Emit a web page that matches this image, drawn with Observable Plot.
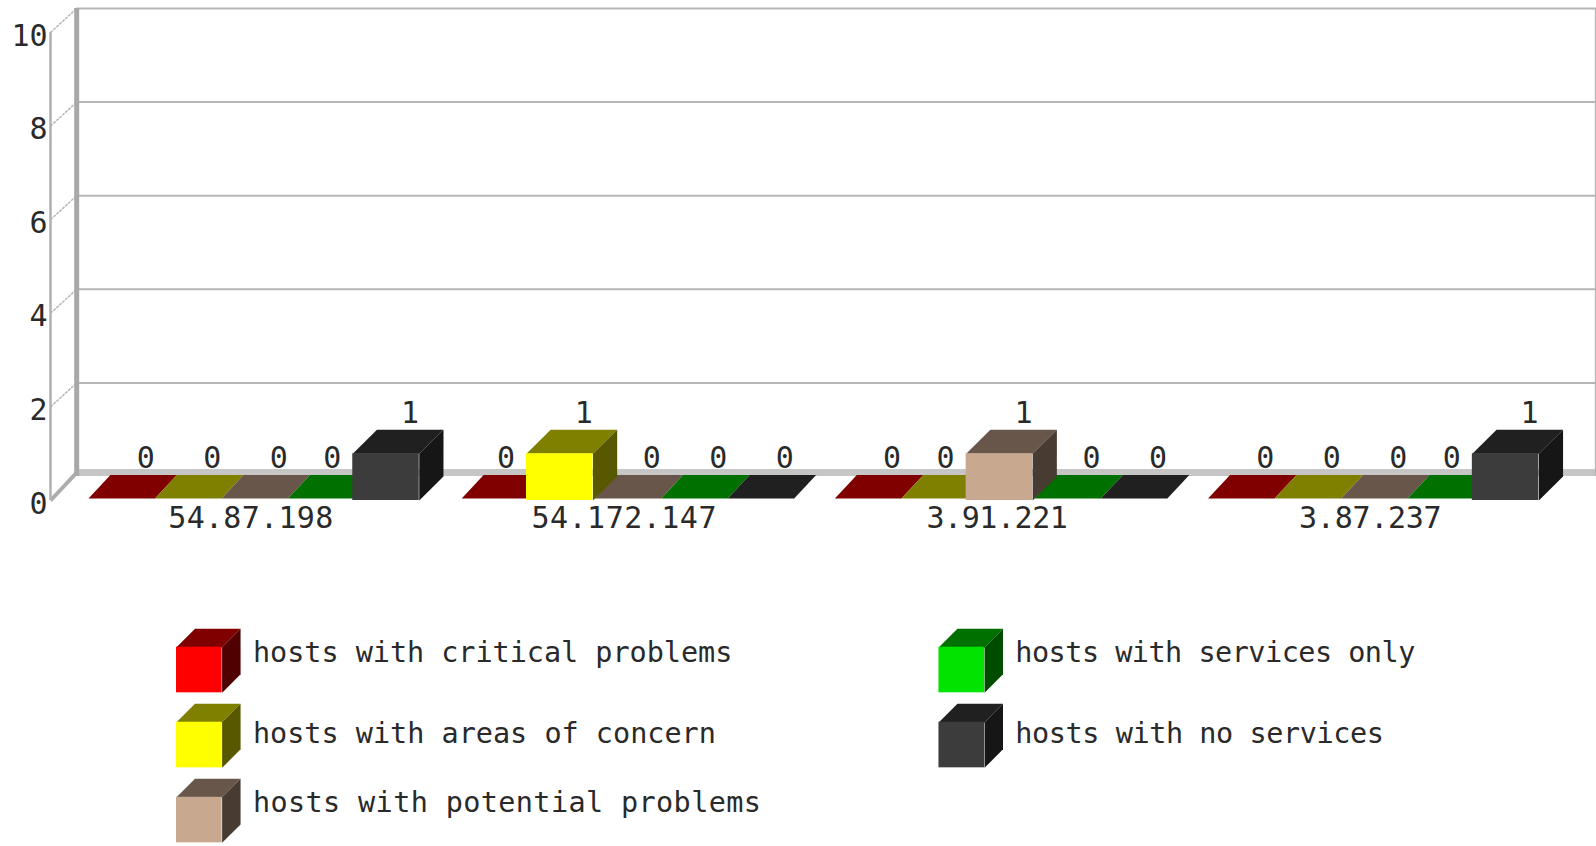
<!DOCTYPE html>
<html>
<head>
<meta charset="utf-8">
<script src="https://cdn.jsdelivr.net/npm/d3@7"></script>
<script src="https://cdn.jsdelivr.net/npm/@observablehq/plot@0.6"></script>
<style>
html,body{margin:0;padding:0;background:#fff;overflow:hidden}
svg{display:block;max-width:none}
</style>
</head>
<body>
<div id="chart"></div>
<script>
const hosts = ["54.87.198", "54.172.147", "3.91.221", "3.87.237"];
const seriesNames = ["hosts with critical problems", "hosts with areas of concern", "hosts with potential problems", "hosts with services only", "hosts with no services"];
const critical = [0, 0, 0, 0];
const concern = [0, 1, 0, 0];
const potential = [0, 0, 1, 0];
const servicesOnly = [0, 0, 0, 0];
const noServices = [1, 0, 0, 1];
const yTicks = [0, 2, 4, 6, 8, 10];
const frontColors = ["#ff0000", "#ffff00", "#c8a88e", "#00e400", "#3c3c3c"];
const topColors = ["#800000", "#808000", "#68564a", "#007000", "#202020"];
const sideColors = ["#500000", "#585800", "#483c32", "#004d00", "#161616"];
const hostTextWidths = [165, 185, 141.5, 142.5];
const legendTextWidths = [479.5, 463, 508, 400, 368.5];

const seriesValues = [critical, concern, potential, servicesOnly, noServices];
const FONT = "'DejaVu Sans Mono', monospace";
const INK = "#2a2a2a";
const GRID = "#b6b6b6";

// Chart units: one x unit = one bar slot, one y unit = one host.
const groupStep = 5.612, depthX = 0.364, depthY = 0.513;
const flatX = 0.026, flatY = 0.043, flatDepthX = 0.33, flatDepthY = 0.5;
const slotsLeft = -0.5714, slotsRight = 22.677;
const wallX = slotsLeft + depthX + 0.03;

const cells = hosts.flatMap((host, g) => seriesValues.map((vals, s) => ({
  host, s, value: vals[g], next: s < 4 ? seriesValues[s + 1][g] : 0, pos: g * groupStep + s
})));

const poly = (id, fill, pts) => pts.map(([x, y]) => ({id, fill, x, y}));
const floors = cells.filter(d => d.value === 0).flatMap((d, i) => poly("f" + i, topColors[d.s], [
  [d.pos, flatY], [d.pos + 1, flatY], [d.pos + 1 + flatDepthX, flatY + flatDepthY], [d.pos + flatDepthX, flatY + flatDepthY]
]));
const raised = cells.filter(d => d.value > 0).map(d => ({...d, x0: d.pos - flatX, x1: d.pos - flatX + 1}));
const faces = raised.flatMap((d, i) => [
  ...poly("t" + i, topColors[d.s], [[d.x0, d.value], [d.x1, d.value], [d.x1 + depthX, d.value + depthY], [d.x0 + depthX, d.value + depthY]]),
  ...poly("s" + i, sideColors[d.s], [[d.x1, 0], [d.x1 + depthX, depthY], [d.x1 + depthX, d.value + depthY], [d.x1, d.value]])
]);
const labelled = cells.map(d => ({
  ...d,
  lx: d.pos + 0.86 - (d.value === 0 && d.next > 0 ? 0.195 : 0) - (d.value > 0 ? 0.025 : 0),
  ly: d.value + 0.855 + (d.value === 0 ? flatY : 0)
}));
const polyMark = rows => Plot.line(rows, {x: "x", y: "y", z: "id", fill: "fill", stroke: "none", curve: "linear-closed"});

const chart = Plot.plot({
  width: 1596, height: 540,
  marginLeft: 50, marginRight: 0, marginTop: 32, marginBottom: 40,
  x: {domain: [slotsLeft, slotsRight], axis: null},
  y: {domain: [0, 10], axis: null},
  color: {type: "identity"},
  style: {background: "#fff", fontFamily: FONT},
  marks: [
    Plot.ruleY(yTicks.filter(t => t > 0), {y: t => t + depthY, x1: wallX, x2: slotsRight, stroke: GRID, strokeWidth: 2}),
    Plot.ruleY([depthY + 0.085], {x1: wallX, x2: slotsRight, stroke: "#c6c6c6", strokeWidth: 7}),
    Plot.ruleX([slotsRight - 0.01], {y1: depthY, y2: 10 + depthY, stroke: GRID, strokeWidth: 2}),
    Plot.link(yTicks.filter(t => t > 0), {x1: slotsLeft, y1: t => t, x2: wallX, y2: t => t + depthY, stroke: GRID, strokeWidth: 1.5, strokeDasharray: "3,1"}),
    Plot.link([0], {x1: slotsLeft, y1: 0, x2: wallX, y2: depthY + 0.085, stroke: "#adadad", strokeWidth: 4}),
    Plot.ruleX([slotsLeft], {y1: 0, y2: 10, stroke: "#b0b0b0", strokeWidth: 2.5}),
    Plot.ruleX([wallX], {y1: depthY, y2: 10 + depthY, stroke: "#a8a8a8", strokeWidth: 5}),
    polyMark(floors),
    polyMark(faces),
    Plot.rect(raised, {x1: "x0", x2: "x1", y1: 0, y2: "value", fill: d => frontColors[d.s], inset: 0}),
    Plot.text(labelled, {x: "lx", y: "ly", text: d => String(d.value), fontSize: 30, fontFamily: FONT, fill: INK}),
    Plot.text(hosts, {x: (d, g) => g * groupStep + 2.44, y: -0.374, text: d => d, fontSize: 30, fontFamily: FONT, fill: INK}),
    Plot.axisY({ticks: yTicks, anchor: "left", tickSize: 0, tickPadding: 3, dy: 3.5, fontSize: 30, fontFamily: FONT, fill: INK, tickFormat: d => String(d), label: null})
  ]
});

// Legend: its own plot under the chart, laid out in rows and columns.
const legendRows = [[0, 0], [0, 1], [0, 2], [1, 0], [1, 1]];
const baselineRow = [0, 1.075, 2];
const cube = 1, cubeD = 0.405;
const colStep = 16.72;
const legendCells = seriesNames.map((name, s) => ({name, s, col: legendRows[s][0], row: legendRows[s][1]}));
const legendFaces = legendCells.flatMap(d => {
  const x0 = d.col * colStep, x1 = x0 + cube, y0 = d.row * 1.645, y1 = y0 + cube;
  return [
    ...poly("lt" + d.s, topColors[d.s], [[x0, y1], [x1, y1], [x1 + cubeD, y1 + cubeD], [x0 + cubeD, y1 + cubeD]].map(([x, y]) => [x, -y + 2 * y0 + cube])),
    ...poly("ls" + d.s, sideColors[d.s], [[x1, y1], [x1 + cubeD, y1 + cubeD], [x1 + cubeD, y0 + cubeD], [x1, y0]].map(([x, y]) => [x, -y + 2 * y0 + cube]))
  ];
});
const legend = Plot.plot({
  width: 1596, height: 306,
  margin: 0,
  x: {domain: [-3.86, 31.14], axis: null},
  y: {domain: [-2.34, 4.37], reverse: false, range: [0, 306], axis: null},
  color: {type: "identity"},
  style: {background: "#fff", fontFamily: FONT},
  marks: [
    polyMark(legendFaces),
    Plot.rect(legendCells, {x1: d => d.col * colStep, x2: d => d.col * colStep + cube, y1: d => d.row * 1.645, y2: d => d.row * 1.645 + cube, fill: d => frontColors[d.s], inset: 0}),
    Plot.text(legendCells, {x: d => d.col * colStep + 1.675, y: d => baselineRow[d.row] * 1.645 + 0.13, text: "name", textAnchor: "start", fontSize: 28.5, fontFamily: FONT, fill: INK})
  ]
});

const fitText = (svg, widths) => {
  const groups = svg.querySelectorAll('g[aria-label="text"]');
  groups[groups.length - 1].querySelectorAll("text").forEach((t, i) => {
    t.setAttribute("textLength", widths[i]);
    t.setAttribute("lengthAdjust", "spacing");
  });
};
fitText(chart, hostTextWidths);
fitText(legend, legendTextWidths);

document.getElementById("chart").append(chart, legend);
</script>
</body>
</html>
